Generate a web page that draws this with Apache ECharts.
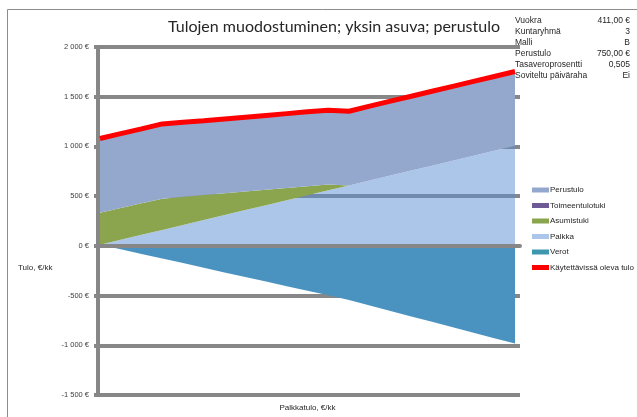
<!DOCTYPE html>
<html>
<head>
<meta charset="utf-8">
<script src="https://cdn.jsdelivr.net/npm/echarts@6/dist/echarts.min.js"></script>
<style>
  html, body { margin: 0; padding: 0; background: #fff; }
  #tulot { width: 637px; height: 417px; }
</style>
</head>
<body>
<div id="tulot"></div>
<script>
// palkkatulo, €/kk (x)
var palkkatulo = [0, 50, 100, 150, 200, 250, 300, 350, 400, 450, 500,
                  550, 600, 650, 700, 750, 800, 850, 900, 950, 1000];

var perustulo = [750, 750, 750, 750, 750, 750, 750, 750, 750, 750, 750,
                 750, 750, 750, 750, 750, 750, 750, 750, 750, 750];
var toimeentulotuki = [0, 0, 0, 0, 0, 0, 0, 0, 0, 0, 0,
                       0, 0, 0, 0, 0, 0, 0, 0, 0, 0];
var asumistuki = [324, 322, 319, 316, 284, 252, 220, 188, 156, 124, 92,
                  60, 0, 0, 0, 0, 0, 0, 0, 0, 0];
var palkka = [0, 50, 100, 150, 200, 250, 300, 350, 400, 450, 500,
              550, 600, 650, 700, 750, 800, 850, 900, 950, 1000];
var verot = [0, -47, -93, -140, -186, -233, -280, -326, -373, -420, -466,
             -512, -560, -615, -670, -725, -780, -835, -890, -945, -1000];
var kaytettavissa = [1074, 1124, 1172, 1222, 1238, 1254, 1272, 1290, 1308, 1326, 1344,
                     1360, 1350, 1402, 1452, 1502, 1552, 1602, 1652, 1702, 1752];

var yTicks = [-1500, -1000, -500, 0, 500, 1000, 1500, 2000];

var infoLabels = ['Vuokra', 'Kuntaryhmä', 'Malli', 'Perustulo', 'Tasaveroprosentti', 'Soviteltu päiväraha'];
var infoValues = ['411,00 €', '3', 'B', '750,00 €', '0,505', 'Ei'];

function euro(v) {
    var s = String(Math.abs(v)).replace(/\B(?=(\d{3})+(?!\d))/g, ' ');
    return (v < 0 ? '-' : '') + s + ' €';
}

var chart = echarts.init(document.getElementById('tulot'));

var font = 'Liberation Sans, Arial, sans-serif';
var gridGray = '#878787';

var graphics = [
    {
        type: 'rect',
        z: 100,
        shape: {x: 7.5, y: 9.5, width: 700, height: 500},
        style: {fill: 'none', stroke: '#8c8c8c', lineWidth: 1},
        silent: true
    },
    {
        type: 'text',
        z: 100,
        x: 334, y: 27,
        style: {
            text: 'Tulojen muodostuminen; yksin asuva; perustulo',
            font: '16px Lato, sans-serif',
            fill: '#262626',
            textAlign: 'center',
            textVerticalAlign: 'middle'
        }
    },
    {
        type: 'text',
        z: 100,
        x: 18, y: 268,
        style: {text: 'Tulo, €/kk', font: '8px ' + font, fill: '#262626', textVerticalAlign: 'middle'}
    }
];
var rowY = [20.5, 31.5, 42.5, 54, 65, 76];
infoLabels.forEach(function (lab, i) {
    graphics.push({
        type: 'text', z: 100, x: 515, y: rowY[i],
        style: {text: lab, font: '8.5px ' + font, fill: '#262626', textVerticalAlign: 'middle'}
    });
    graphics.push({
        type: 'text', z: 100, x: 630, y: rowY[i],
        style: {text: infoValues[i], font: '8.5px ' + font, fill: '#262626', textAlign: 'right', textVerticalAlign: 'middle'}
    });
});

function area(name, vals, color, fill, stacked) {
    var s = {
        name: name,
        type: 'line',
        xAxisIndex: 1,
        yAxisIndex: 1,
        data: vals,
        showSymbol: false,
        itemStyle: {color: color},
        lineStyle: {width: 0},
        areaStyle: {color: fill, opacity: 1}
    };
    if (stacked) s.stack = 'tulo';
    return s;
}

var option = {
    animation: false,
    backgroundColor: '#fff',
    textStyle: {fontFamily: font},
    grid: [
        {left: 98, right: 117, top: 47, bottom: 22},   // gridlines + y axis
        {left: 100, right: 122, top: 47, bottom: 22}   // data
    ],
    legend: {
        orient: 'vertical',
        left: 532,
        top: 186,
        padding: 0,
        itemWidth: 17,
        itemHeight: 5,
        itemGap: 7.5,
        icon: 'rect',
        textStyle: {fontSize: 8, color: '#262626', padding: [0, 0, 0, -4]},
        data: [
            {name: 'Perustulo', itemStyle: {color: '#94a8ce'}},
            {name: 'Toimeentulotuki', itemStyle: {color: '#6f5a98'}},
            {name: 'Asumistuki', itemStyle: {color: '#8ba54e'}},
            {name: 'Palkka', itemStyle: {color: '#abc6e8'}},
            {name: 'Verot', itemStyle: {color: '#3f97ad'}},
            {name: 'Käytettävissä oleva tulo', itemStyle: {color: '#ff0000'}}
        ]
    },
    xAxis: [
        {
            // zero line drawn over the areas
            gridIndex: 0,
            type: 'value',
            min: 0,
            max: 1,
            z: 10,
            axisLine: {show: true, onZero: true, lineStyle: {color: gridGray, width: 4}},
            axisTick: {show: false},
            axisLabel: {show: false},
            splitLine: {show: false}
        },
        {
            gridIndex: 1,
            type: 'category',
            boundaryGap: false,
            data: palkkatulo,
            name: 'Palkkatulo, €/kk',
            nameLocation: 'middle',
            nameGap: 11,
            nameTextStyle: {fontSize: 8, color: '#262626'},
            axisLine: {show: false, onZero: false},
            axisTick: {show: false},
            axisLabel: {show: false},
            splitLine: {show: false}
        }
    ],
    yAxis: [
        {
            gridIndex: 0,
            type: 'value',
            min: yTicks[0],
            max: yTicks[yTicks.length - 1],
            interval: 500,
            axisLine: {show: true, lineStyle: {color: gridGray, width: 4}},
            axisTick: {show: true, length: 4, lineStyle: {color: gridGray, width: 4}},
            axisLabel: {
                margin: 9,
                fontSize: 7.5,
                color: '#404040',
                formatter: euro
            },
            splitLine: {show: true, lineStyle: {color: gridGray, width: 4}}
        },
        {
            gridIndex: 1,
            type: 'value',
            min: yTicks[0],
            max: yTicks[yTicks.length - 1],
            interval: 500,
            show: false
        }
    ],
    series: [
        area('Palkka', palkka, '#abc6e8', 'rgba(87,141,209,0.5)', true),
        area('Asumistuki', asumistuki, '#8ba54e', '#8ba54e', true),
        area('Toimeentulotuki', toimeentulotuki, '#6f5a98', '#6f5a98', true),
        area('Perustulo', perustulo, '#94a8ce', '#94a8ce', true),
        area('Verot', verot, '#4a93c0', '#4a93c0', false),
        {
            name: 'Käytettävissä oleva tulo',
            type: 'line',
            xAxisIndex: 1,
            yAxisIndex: 1,
            z: 5,
            data: kaytettavissa,
            showSymbol: false,
            itemStyle: {color: '#ff0000'},
            lineStyle: {color: '#ff0000', width: 5}
        }
    ],
    graphic: graphics
};

chart.setOption(option);
</script>
</body>
</html>
